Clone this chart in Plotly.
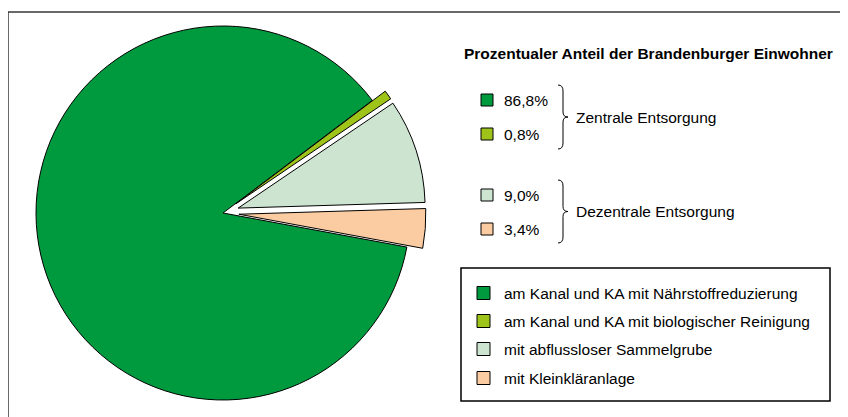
import plotly.graph_objects as go

# ---- data ----
categories = [
    "am Kanal und KA mit Nährstoffreduzierung",
    "am Kanal und KA mit biologischer Reinigung",
    "mit abflussloser Sammelgrube",
    "mit Kleinkläranlage",
]
shares = [86.8, 0.8, 9.0, 3.4]
groups = ["Zentrale Entsorgung", "Dezentrale Entsorgung"]
title_text = "Prozentualer Anteil der Brandenburger Einwohner"

colors = ["#009a3e", "#9ec41a", "#cde5d0", "#fbcca2"]
FONT = "Liberation Sans, Arial, Helvetica, sans-serif"
FS = 15.5

# page body has an 8px margin -> figure starts at (8,8) in the window
OFF = 8
W, H = 840, 409

fig = go.Figure()

# pie centre ~ (223,213) window px, radius ~187 px
max_pull = 0.085
half = 187 * (1 + max_pull)
cx, cy = 223 - OFF, 213 - OFF
fig.add_trace(go.Pie(
    labels=categories,
    values=shares,
    sort=False,
    direction="clockwise",
    rotation=100.5,
    pull=[0.0, max_pull, max_pull, max_pull],
    marker=dict(colors=colors, line=dict(color="black", width=1)),
    textinfo="none",
    hoverinfo="label+percent",
    showlegend=False,
    domain=dict(x=[(cx - half) / W, (cx + half) / W],
                y=[1 - (cy + half) / H, 1 - (cy - half) / H]),
))

# invisible axes in window-pixel units for annotations and shapes
fig.update_xaxes(range=[OFF, OFF + W], visible=False, fixedrange=True)
fig.update_yaxes(range=[OFF + H, OFF], visible=False, fixedrange=True)

shapes = []
annotations = []

# outer frame
shapes.append(dict(type="rect", xref="x", yref="y", x0=8, y0=12, x1=870, y1=440,
                   line=dict(color="#383838", width=1.5), fillcolor="rgba(0,0,0,0)"))

# title
annotations.append(dict(x=462, y=53, xref="x", yref="y", text="<b>" + title_text + "</b>",
                        showarrow=False, xanchor="left", yanchor="middle",
                        font=dict(family=FONT, size=FS, color="black")))

# percentage rows
pct_rows_y = [100, 134, 195, 229]
for i, (v, yy) in enumerate(zip(shares, pct_rows_y)):
    shapes.append(dict(type="rect", xref="x", yref="y", x0=481, x1=493, y0=yy - 6, y1=yy + 6,
                       fillcolor=colors[i], line=dict(color="black", width=1)))
    label = f"{v:.1f}".replace(".", ",") + "%"
    annotations.append(dict(x=502, y=yy, xref="x", yref="y", text=label, showarrow=False,
                            xanchor="left", yanchor="middle",
                            font=dict(family=FONT, size=FS, color="black")))

# braces
def brace(top, bot, x0=558, xm=563, xt=568):
    mid = (top + bot) / 2
    return (f"M {x0},{top} Q {xm},{top} {xm},{top + 6} L {xm},{mid - 5} "
            f"Q {xm},{mid} {xt},{mid} Q {xm},{mid} {xm},{mid + 5} "
            f"L {xm},{bot - 6} Q {xm},{bot} {x0},{bot}")

for (top, bot), g in zip([(85, 149), (180, 243)], groups):
    shapes.append(dict(type="path", xref="x", yref="y", path=brace(top, bot),
                       line=dict(color="black", width=1)))
    annotations.append(dict(x=574, y=(top + bot) / 2, xref="x", yref="y", text=g,
                            showarrow=False, xanchor="left", yanchor="middle",
                            font=dict(family=FONT, size=FS, color="black")))

# category legend box
shapes.append(dict(type="rect", xref="x", yref="y", x0=461, x1=830, y0=268, y1=401,
                   line=dict(color="black", width=1.5), fillcolor="rgba(0,0,0,0)"))
leg_rows_y = [293, 321, 349, 378]
for i, (c, yy) in enumerate(zip(categories, leg_rows_y)):
    shapes.append(dict(type="rect", xref="x", yref="y", x0=477, x1=490, y0=yy - 6.5, y1=yy + 6.5,
                       fillcolor=colors[i], line=dict(color="black", width=1)))
    annotations.append(dict(x=502, y=yy, xref="x", yref="y", text=c, showarrow=False,
                            xanchor="left", yanchor="middle",
                            font=dict(family=FONT, size=FS, color="black")))

fig.update_layout(
    width=W, height=H,
    margin=dict(l=0, r=0, t=0, b=0),
    paper_bgcolor="white", plot_bgcolor="white",
    shapes=shapes, annotations=annotations,
    showlegend=False,
)

fig.write_html("out.html")
